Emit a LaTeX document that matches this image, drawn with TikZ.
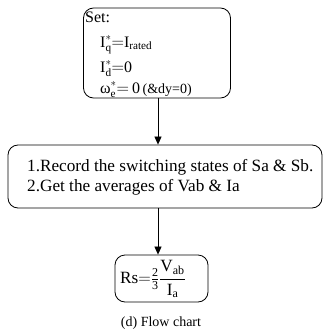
\documentclass[tikz,border=0pt]{standalone}
\usepackage{fontspec}
\usepackage{amsmath}
\setmainfont{Liberation Serif}
\usetikzlibrary{arrows.meta}
\begin{document}
\begin{tikzpicture}[x=1pt,y=-1pt,
  flowbox/.style={draw=black, line width=0.8pt, rounded corners=10pt, inner sep=0pt},
  txt/.style={anchor=base west, inner sep=0pt, font=\fontsize{16}{19}\selectfont},
  wide/.style={anchor=base west, inner sep=0pt, font=\fontsize{17.2}{20}\selectfont},
  conn/.style={draw=black, line width=0.7pt, -{Triangle[length=8pt,width=7pt]}}]
\useasboundingbox (0,0) rectangle (323,332);
\node[flowbox, minimum width=147pt, minimum height=90pt] (b1) at (157,53) {};
\node[txt] (t0) at (85,22) {Set:};
\node[txt] (t1) at (100,47) {$\text{I}^{*}_{\text{q}}{=}\text{I}_{\text{rated}}$};
\node[txt] (t2) at (100,72) {$\text{I}^{*}_{\text{d}}{=}\text{0}$};
\node[txt] (t3) at (100,93) {ω$^{*}_{\text{e}}{=}\,\text{0}$\,{\fontsize{14}{16}\selectfont(\&dy=0)}};
\node[flowbox, minimum width=314pt, minimum height=63pt] (b2) at (165,176.5) {};
\node[wide] (u1) at (27,171) {1.Record the switching states of Sa \& Sb.};
\node[wide] (u2) at (27,191) {2.Get the averages of Vab \& Ia};
\node[flowbox, minimum width=93pt, minimum height=47pt] (b3) at (161.5,278.5) {};
\node[wide, anchor=west] (eq) at (120,279) {Rs${=}\tfrac{\text{2}}{\text{3}}\dfrac{\text{V}_{\text{ab}}}{\text{I}_{\text{a}}}$};
\node[anchor=base, inner sep=0pt, font=\fontsize{14}{16}\selectfont] (cap) at (161,326) {(d) Flow chart};
\coordinate (a1) at (158,0);
\draw[conn] (b1.south -| a1) -- (b2.north -| a1);
\draw[conn] (b2.south -| a1) -- (b3.north -| a1);
\end{tikzpicture}
\end{document}
